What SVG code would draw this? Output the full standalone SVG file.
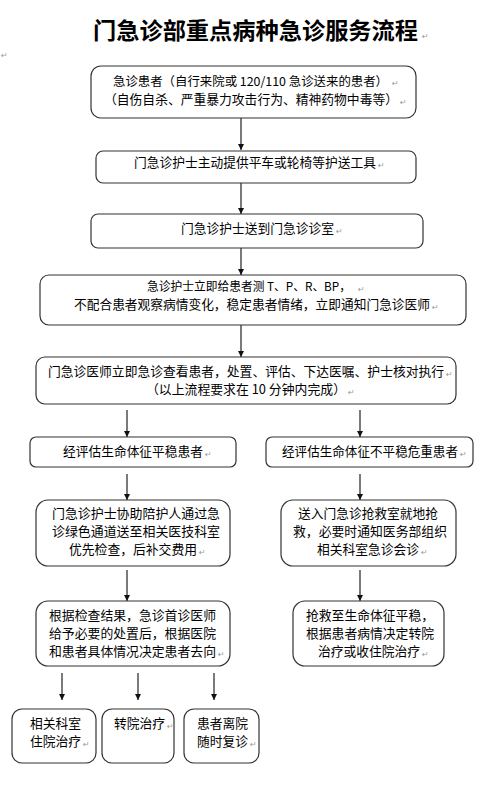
<svg xmlns="http://www.w3.org/2000/svg" width="493" height="795" viewBox="0 0 493 795">
<defs>
<style>
.t{font-family:"Noto Sans CJK SC","Noto Sans",sans-serif;font-size:12.8px;fill:#000}
.ttl{font-family:"Noto Sans CJK SC","Noto Sans",sans-serif;font-size:23.2px;font-weight:bold;fill:#000}
.pm{font-family:"DejaVu Sans",sans-serif;font-size:8px;fill:#999}
.box{fill:#fff;stroke:#333;stroke-width:1.2}
.ln{stroke:#222;stroke-width:1.2;fill:none;marker-end:url(#ah)}
</style>
<marker id="ah" viewBox="0 0 10 10" refX="10" refY="5" markerWidth="6" markerHeight="6" markerUnits="userSpaceOnUse" orient="auto">
<path d="M0,0 L10,5 L0,10 Z" fill="#111"/>
</marker>
</defs>
<rect width="493" height="795" fill="#fff"/>
<g id="title">
<text class="ttl" x="93" y="39" textLength="325" lengthAdjust="spacingAndGlyphs">门急诊部重点病种急诊服务流程</text>
<text class="pm" x="422" y="39">↵</text>
<text class="pm" x="1" y="58">↵</text>
</g>
<g id="connectors">
<line class="ln" x1="241" y1="118" x2="241" y2="150"/>
<line class="ln" x1="241" y1="183" x2="241" y2="214"/>
<line class="ln" x1="241" y1="248" x2="241" y2="275"/>
<line class="ln" x1="241" y1="325" x2="241" y2="357"/>
<line class="ln" x1="127" y1="410" x2="127" y2="437"/>
<line class="ln" x1="360" y1="410" x2="360" y2="437"/>
<line class="ln" x1="127" y1="474" x2="127" y2="500"/>
<line class="ln" x1="360" y1="474" x2="360" y2="500"/>
<line class="ln" x1="127" y1="570" x2="127" y2="601"/>
<line class="ln" x1="360" y1="570" x2="360" y2="601"/>
<line class="ln" x1="62" y1="673" x2="62" y2="700"/>
<line class="ln" x1="138" y1="673" x2="138" y2="700"/>
<line class="ln" x1="214" y1="673" x2="214" y2="700"/>
</g>
<g id="n1">
<rect class="box" x="91" y="66" width="325" height="52" rx="10"/>
<text class="t" x="113" y="86" style="font-size:12.4px" textLength="275" lengthAdjust="spacingAndGlyphs">急诊患者（自行来院或 120/110 急诊送来的患者）</text>
<text class="pm" x="392" y="86">↵</text>
<text class="t" x="104" y="104" textLength="294" lengthAdjust="spacingAndGlyphs">（自伤自杀、严重暴力攻击行为、精神药物中毒等）</text>
<text class="pm" x="400" y="105">↵</text>
</g>
<g id="n2">
<rect class="box" x="96" y="151" width="320" height="32" rx="7"/>
<text class="t" x="134" y="167" style="font-size:12.7px" textLength="242" lengthAdjust="spacingAndGlyphs">门急诊护士主动提供平车或轮椅等护送工具</text>
<text class="pm" x="378" y="168">↵</text>
</g>
<g id="n3">
<rect class="box" x="91" y="214" width="332" height="34" rx="7"/>
<text class="t" x="181" y="233" textLength="153" lengthAdjust="spacingAndGlyphs">门急诊护士送到门急诊诊室</text>
<text class="pm" x="336" y="234">↵</text>
</g>
<g id="n4">
<rect class="box" x="40" y="275" width="426" height="50" rx="9"/>
<text class="t" x="147" y="291" style="font-size:12px" textLength="204" lengthAdjust="spacingAndGlyphs">急诊护士立即给患者测 T、P、R、BP，</text>
<text class="pm" x="358" y="292">↵</text>
<text class="t" x="74" y="309" style="font-size:12.7px" textLength="356" lengthAdjust="spacingAndGlyphs">不配合患者观察病情变化，稳定患者情绪，立即通知门急诊医师</text>
<text class="pm" x="432" y="310">↵</text>
</g>
<g id="n5">
<rect class="box" x="36" y="357" width="420" height="47" rx="9"/>
<text class="t" x="48" y="376" style="font-size:12.75px" textLength="396" lengthAdjust="spacingAndGlyphs">门急诊医师立即急诊查看患者，处置、评估、下达医嘱、护士核对执行</text>
<text class="pm" x="446" y="377">↵</text>
<text class="t" x="146" y="394" textLength="200" lengthAdjust="spacingAndGlyphs">（以上流程要求在 10 分钟内完成）</text>
<text class="pm" x="348" y="395">↵</text>
</g>
<g id="n6">
<rect class="box" x="30" y="437" width="206" height="30" rx="6"/>
<text class="t" x="63" y="456" style="font-size:12.7px" textLength="140" lengthAdjust="spacingAndGlyphs">经评估生命体征平稳患者</text>
<text class="pm" x="205" y="457">↵</text>
</g>
<g id="n7">
<rect class="box" x="266" y="437" width="207" height="30" rx="6"/>
<text class="t" x="282" y="456" style="font-size:12.6px" textLength="176" lengthAdjust="spacingAndGlyphs">经评估生命体征不平稳危重患者</text>
<text class="pm" x="460" y="457">↵</text>
</g>
<g id="n8">
<rect class="box" x="36" y="500" width="194" height="66" rx="12"/>
<text class="t" x="52" y="518" style="font-size:12.9px" textLength="168" lengthAdjust="spacingAndGlyphs">门急诊护士协助陪护人通过急</text>
<text class="t" x="52" y="536" style="font-size:12.9px" textLength="168" lengthAdjust="spacingAndGlyphs">诊绿色通道送至相关医技科室</text>
<text class="t" x="69" y="554" textLength="128" lengthAdjust="spacingAndGlyphs">优先检查，后补交费用</text>
<text class="pm" x="199" y="555">↵</text>
</g>
<g id="n9">
<rect class="box" x="281" y="500" width="175" height="66" rx="12"/>
<text class="t" x="298" y="518" style="font-size:12.7px" textLength="140" lengthAdjust="spacingAndGlyphs">送入门急诊抢救室就地抢</text>
<text class="t" x="293" y="536" textLength="154" lengthAdjust="spacingAndGlyphs">救，必要时通知医务部组织</text>
<text class="t" x="317" y="554" textLength="102" lengthAdjust="spacingAndGlyphs">相关科室急诊会诊</text>
<text class="pm" x="421" y="555">↵</text>
</g>
<g id="n10">
<rect class="box" x="36" y="601" width="194" height="65" rx="12"/>
<text class="t" x="49" y="620" textLength="167" lengthAdjust="spacingAndGlyphs">根据检查结果，急诊首诊医师</text>
<text class="t" x="49" y="638" textLength="167" lengthAdjust="spacingAndGlyphs">给予必要的处置后，根据医院</text>
<text class="t" x="49" y="656" textLength="167" lengthAdjust="spacingAndGlyphs">和患者具体情况决定患者去向</text>
<text class="pm" x="218" y="657">↵</text>
</g>
<g id="n11">
<rect class="box" x="293" y="601" width="151" height="65" rx="12"/>
<text class="t" x="306" y="620" textLength="128" lengthAdjust="spacingAndGlyphs">抢救至生命体征平稳，</text>
<text class="t" x="306" y="638" textLength="128" lengthAdjust="spacingAndGlyphs">根据患者病情决定转院</text>
<text class="t" x="318" y="656" textLength="102" lengthAdjust="spacingAndGlyphs">治疗或收住院治疗</text>
<text class="pm" x="422" y="657">↵</text>
</g>
<g id="n12">
<rect class="box" x="12" y="709" width="84" height="54" rx="10"/>
<text class="t" x="30" y="728" textLength="51" lengthAdjust="spacingAndGlyphs">相关科室</text>
<text class="t" x="30" y="746" textLength="51" lengthAdjust="spacingAndGlyphs">住院治疗</text>
<text class="pm" x="83" y="747">↵</text>
</g>
<g id="n13">
<rect class="box" x="102" y="709" width="72" height="54" rx="10"/>
<text class="t" x="114" y="728" textLength="51" lengthAdjust="spacingAndGlyphs">转院治疗</text>
<text class="pm" x="167" y="729">↵</text>
</g>
<g id="n14">
<rect class="box" x="184" y="709" width="75" height="54" rx="10"/>
<text class="t" x="197" y="728" textLength="51" lengthAdjust="spacingAndGlyphs">患者离院</text>
<text class="t" x="197" y="746" textLength="51" lengthAdjust="spacingAndGlyphs">随时复诊</text>
<text class="pm" x="250" y="747">↵</text>
</g>
</svg>
